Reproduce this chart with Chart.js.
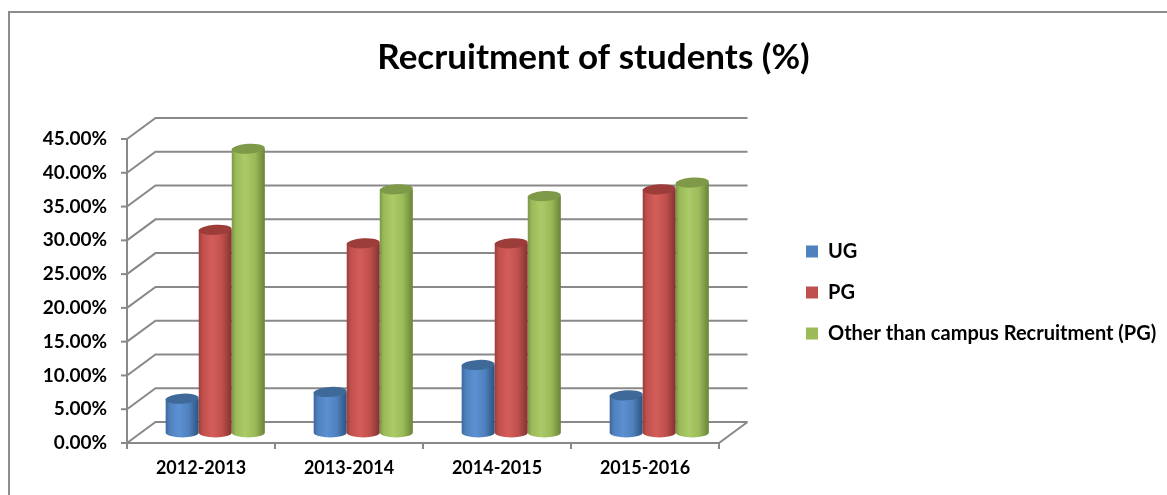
<!DOCTYPE html>
<html>
<head>
<meta charset="utf-8">
<script src="https://cdn.jsdelivr.net/npm/chart.js@4.4.0/dist/chart.umd.min.js"></script>
<style>
  html, body { margin: 0; padding: 0; background: #fff; }
  #wrap { width: 1167px; height: 495px; }
</style>
</head>
<body>
<div id="wrap"><canvas id="c" width="1167" height="495"></canvas></div>
<script>
// ---- data ----
const categories = ['2012-2013', '2013-2014', '2014-2015', '2015-2016'];
const seriesNames = ['UG', 'PG', 'Other than campus Recruitment (PG)'];
const ugValues = [5, 6, 10, 5.5];
const pgValues = [30, 28, 28, 36];
const otherValues = [42, 36, 35, 37];
const yMin = 0, yMax = 45, yStep = 5;

// ---- styling ----
const FONT = 'Lato';
const DX = 28.5, DY = -21;
const palettes = [
  { base: '#4f81bd', edgeL: '#3b669b', light: '#5c90d2', edgeR: '#2d527f', top: '#3e6999' },
  { base: '#c0504d', edgeL: '#9c3d3a', light: '#d45d5a', edgeR: '#823230', top: '#9d3d3a' },
  { base: '#9bbb59', edgeL: '#7b9645', light: '#aacb68', edgeR: '#6a8338', top: '#7e9a49' }
];

function drawCylinder(ctx, cx, top, bottom, w, p) {
  const rx = w / 2, ry = 5;
  const l = cx - rx, r = cx + rx;
  const g = ctx.createLinearGradient(l, 0, r, 0);
  g.addColorStop(0, p.edgeL);
  g.addColorStop(0.12, p.base);
  g.addColorStop(0.4, p.light);
  g.addColorStop(0.7, p.base);
  g.addColorStop(1, p.edgeR);
  ctx.fillStyle = g;
  ctx.beginPath();
  ctx.moveTo(l, top);
  ctx.lineTo(l, bottom);
  ctx.ellipse(cx, bottom, rx, ry, 0, Math.PI, 0, true);
  ctx.lineTo(r, top);
  ctx.closePath();
  ctx.fill();
  ctx.fillStyle = p.top;
  ctx.beginPath();
  ctx.ellipse(cx, top, rx, ry, -0.06, 0, Math.PI * 2);
  ctx.fill();
}

const threeD = {
  id: 'threeD',
  afterInit(chart) {
    const lg = chart.legend;
    if (lg) {
      const f = lg.fit.bind(lg);
      lg.fit = function () { f(); this.width = 1167 - 719; };
    }
  },
  afterLayout(chart) {
    const lg = chart.legend;
    if (lg) {
      const pad = lg.options.labels.padding;
      const d = 806 - (lg.left + pad);
      lg.left += d; lg.right += d;
      lg.top += 45; lg.bottom += 45;
    }
    const tb = chart.titleBlock;
    if (tb) { tb.left += 10; tb.right += 10; }
  },
  beforeDraw(chart) {
    const ctx = chart.ctx;
    ctx.save();
    ctx.fillStyle = '#fff';
    ctx.fillRect(0, 0, chart.width, chart.height);
    ctx.strokeStyle = '#8c8c8c';
    ctx.lineWidth = 2;
    ctx.strokeRect(9, 12, chart.width + 10, chart.height + 10);
    ctx.restore();
  },
  beforeDatasetsDraw(chart) {
    const ctx = chart.ctx, ys = chart.scales.y, xs = chart.scales.x, a = chart.chartArea;
    ctx.save();
    ctx.strokeStyle = '#898989';
    ctx.lineWidth = 2;
    ctx.lineCap = 'butt';
    ys.ticks.forEach(t => {
      const yf = ys.getPixelForValue(t.value);
      ctx.beginPath();
      ctx.moveTo(a.left, yf);
      ctx.lineTo(a.left + DX, yf + DY);
      ctx.lineTo(a.right + DX, yf + DY);
      ctx.stroke();
      ctx.beginPath();
      ctx.moveTo(a.left - 6, yf);
      ctx.lineTo(a.left, yf);
      ctx.stroke();
    });
    const y0 = ys.getPixelForValue(yMin);
    const yTop = ys.getPixelForValue(yMax);
    ctx.beginPath();
    ctx.moveTo(a.left, yTop);
    ctx.lineTo(a.left, y0);
    ctx.stroke();
    ctx.beginPath();
    ctx.moveTo(a.left, y0);
    ctx.lineTo(a.right, y0);
    ctx.lineTo(a.right + DX, y0 + DY);
    ctx.stroke();
    const n = categories.length;
    for (let i = 0; i <= n; i++) {
      let bx;
      if (i === 0) bx = a.left;
      else if (i === n) bx = a.right;
      else bx = (xs.getPixelForValue(i - 1) + xs.getPixelForValue(i)) / 2;
      ctx.beginPath();
      ctx.moveTo(bx, y0);
      ctx.lineTo(bx, y0 + 6);
      ctx.stroke();
    }
    chart.data.datasets.forEach((ds, di) => {
      const meta = chart.getDatasetMeta(di);
      meta.data.forEach(bar => {
        const p = bar.getProps(['x', 'y', 'base', 'width'], true);
        drawCylinder(ctx, p.x + DX / 2, p.y + DY / 2, p.base + DY / 2, p.width, palettes[di]);
      });
    });
    ctx.restore();
    return false;
  }
};

new Chart(document.getElementById('c'), {
  type: 'bar',
  data: {
    labels: categories,
    datasets: [
      { label: seriesNames[0], data: ugValues, backgroundColor: palettes[0].base, borderWidth: 0 },
      { label: seriesNames[1], data: pgValues, backgroundColor: palettes[1].base, borderWidth: 0 },
      { label: seriesNames[2], data: otherValues, backgroundColor: palettes[2].base, borderWidth: 0 }
    ]
  },
  options: {
    responsive: false,
    animation: false,
    devicePixelRatio: 1,
    layout: { padding: { left: 0, right: 0, top: 0, bottom: 0 } },
    datasets: { bar: { categoryPercentage: 0.67, barPercentage: 1 } },
    plugins: {
      title: {
        display: true,
        text: 'Recruitment of students (%)',
        color: '#000',
        font: { family: FONT, size: 35, weight: 'bold', lineHeight: 1 },
        padding: { top: 40, bottom: 64 }
      },
      legend: {
        display: true,
        position: 'right',
        labels: {
          color: '#000',
          boxWidth: 12,
          boxHeight: 12,
          padding: 21,
          font: { family: FONT, size: 20, weight: 'bold' }
        }
      },
      tooltip: { enabled: false }
    },
    scales: {
      x: {
        grid: { display: false, drawTicks: false },
        border: { display: false },
        ticks: { color: '#000', padding: 14, font: { family: FONT, size: 18, weight: 'bold' } },
        afterFit(s) { s.height = 52; }
      },
      y: {
        min: yMin, max: yMax,
        grid: { display: false, drawTicks: false },
        border: { display: false },
        ticks: {
          stepSize: yStep,
          color: '#000',
          padding: 20,
          font: { family: FONT, size: 19, weight: 'bold' },
          callback: v => v.toFixed(2) + '%'
        },
        afterFit(s) { s.width = 127; }
      }
    }
  },
  plugins: [threeD]
});
</script>
</body>
</html>
